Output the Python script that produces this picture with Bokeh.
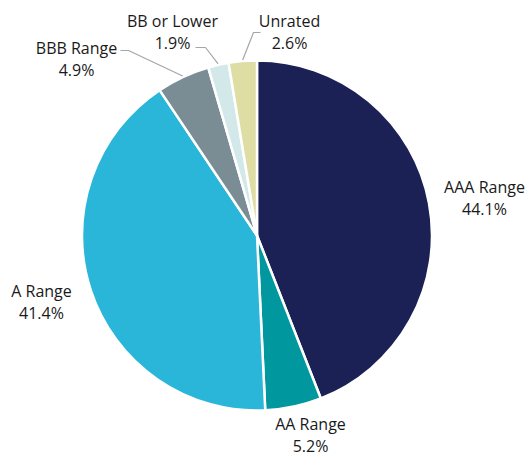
import math
from bokeh.plotting import figure
from bokeh.models import ColumnDataSource
from bokeh.core.properties import value
from bokeh.embed import file_html
from bokeh.resources import INLINE

# ---- data ----
categories = ["AAA Range", "AA Range", "A Range", "BBB Range", "BB or Lower", "Unrated"]
shares = [44.1, 5.2, 41.4, 4.9, 1.9, 2.6]
pct_labels = ["44.1%", "5.2%", "41.4%", "4.9%", "1.9%", "2.6%"]
colors = ["#1B2155", "#00979E", "#29B6D9", "#7A8C94", "#D3E9E9", "#DEDDA3"]

# ---- layout (page pixel positions of labels) ----
W, H = 525, 455
def dx(px): return px
def dy(py): return H - py

cx, cy, R = dx(256.5), dy(235), 175
label_pos = [(484, 186), (310, 423), (41, 290), (76, 47), (172, 20), (289, 20)]
line_gap = 22
# leader line elbows (page coords): (label end, elbow) or None
leaders = [None, None, None, ((120, 50), (128, 50)), ((195, 47), (205, 47)), ((260, 32), (253, 32))]

total = sum(shares)
starts, ends, mids = [], [], []
cum = 0.0
for s in shares:
    a0 = math.pi / 2 - 2 * math.pi * cum / total
    cum += s
    a1 = math.pi / 2 - 2 * math.pi * cum / total
    starts.append(a0); ends.append(a1); mids.append((a0 + a1) / 2)

p = figure(width=W, height=H, x_range=(0, W), y_range=(0, H),
           output_backend="svg", toolbar_location=None, min_border=0)
p.axis.visible = False
p.grid.visible = False
p.outline_line_color = None
p.background_fill_color = "white"

src = ColumnDataSource(dict(x=[cx] * len(shares), y=[cy] * len(shares),
                            s=starts, e=ends, c=colors))
p.wedge(x="x", y="y", radius=R, start_angle="s", end_angle="e", direction="clock",
        fill_color="c", line_color="white", line_width=2.5, source=src)

# leader lines
for i, ld in enumerate(leaders):
    if ld is None:
        continue
    (x0, y0), (x1, y1) = ld
    ex = cx + (R + 1) * math.cos(mids[i])
    ey = cy + (R + 1) * math.sin(mids[i])
    p.line([dx(x0), dx(x1), ex], [dy(y0), dy(y1), ey], line_color="#A6A6A6", line_width=1.2)

tx, ty1, ty2 = [], [], []
for (lx, ly) in label_pos:
    tx.append(dx(lx)); ty1.append(dy(ly)); ty2.append(dy(ly + line_gap))
p.text(x=tx, y=ty1, text=categories, text_align="center", text_baseline="middle",
       text_font=value("Open Sans"), text_font_size="16px", text_color="#1a1a1a")
p.text(x=tx, y=ty2, text=pct_labels, text_align="center", text_baseline="middle",
       text_font=value("Open Sans"), text_font_size="16px", text_color="#1a1a1a")

open("out.html", "w").write(file_html(p, INLINE))
